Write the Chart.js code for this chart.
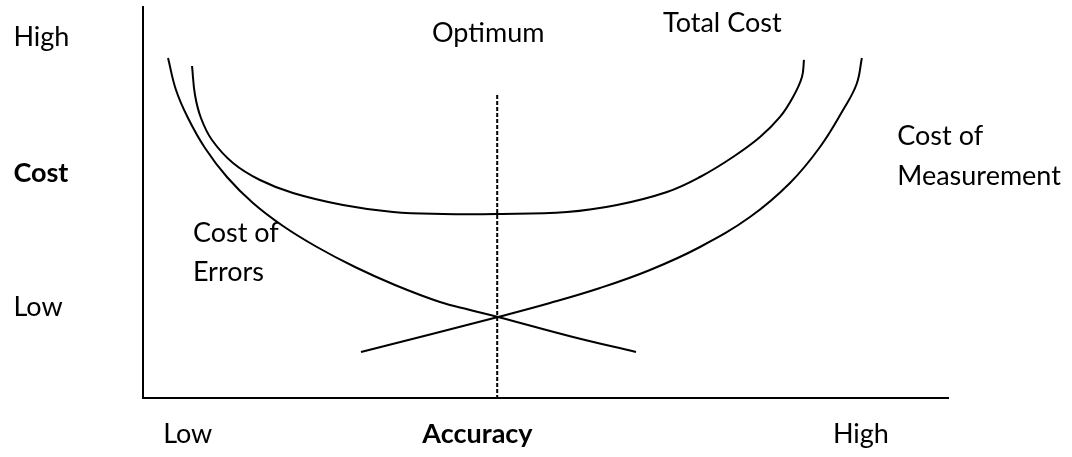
<!DOCTYPE html>
<html>
<head>
<meta charset="utf-8">
<script src="https://cdn.jsdelivr.net/npm/chart.js@4/dist/chart.umd.min.js"></script>
<style>
  html, body { margin: 0; padding: 0; background: #ffffff; }
  #wrap { width: 1072px; height: 457px; }
</style>
</head>
<body>
<div id="wrap"><canvas id="c" width="1072" height="457"></canvas></div>
<script>
// ---- Data (accuracy 0..10 on x, cost 0..10 on y) ----
const errorsX = [0.311, 0.410, 0.559, 0.770, 1.043, 1.366, 1.739, 2.161, 2.634, 3.130, 3.689, 4.062, 4.410, 5.342, 6.124];
const errorsY = [8.696, 7.877, 7.161, 6.394, 5.652, 4.987, 4.399, 3.862, 3.350, 2.890, 2.455, 2.251, 2.072, 1.560, 1.176];

const measureX = [2.708, 3.565, 4.410, 5.056, 5.677, 6.298, 6.919, 7.540, 8.037, 8.410, 8.696, 8.865, 8.930];
const measureY = [1.176, 1.624, 2.072, 2.430, 2.813, 3.274, 3.862, 4.629, 5.499, 6.419, 7.366, 8.030, 8.696];

const totalX = [0.609, 0.646, 0.720, 0.857, 1.118, 1.453, 1.863, 2.484, 3.106, 3.727, 4.398, 5.267, 5.888, 6.509, 6.919, 7.329, 7.665, 7.913, 8.075, 8.186, 8.211];
const totalY = [8.491, 7.749, 7.161, 6.598, 6.010, 5.575, 5.243, 4.936, 4.757, 4.706, 4.706, 4.757, 4.936, 5.269, 5.652, 6.164, 6.675, 7.187, 7.698, 8.210, 8.645];

const optimumX = [4.40, 4.40];
const optimumY = [7.75, 0.00];

const minMarkX = [4.31, 4.52];
const minMarkY = [4.706, 4.706];

// ---- Text labels (anchor = left / baseline, in data units) ----
const labelText = ["High", "Cost", "Low", "Optimum", "Total Cost", "Cost of", "Measurement", "Cost of", "Errors", "Low", "Accuracy", "High"];
const labelX    = [-1.61, -1.61, -1.61, 3.59, 6.46, 9.37, 9.37, 0.62, 0.62, 0.25, 3.47, 8.57];
const labelY    = [9.00, 5.52, 2.10, 9.10, 9.36, 6.47, 5.45, 3.99, 2.99, -1.15, -1.15, -1.15];
const labelBold = [false, true, false, false, false, false, false, false, false, false, true, false];

function pts(xs, ys) { return xs.map((x, i) => ({ x: x, y: ys[i] })); }

const FONT = '"Lato", "Liberation Sans", sans-serif';
const FONT_SIZE = 27;

const textPlugin = {
  id: 'textLabels',
  afterDraw(chart) {
    const ctx = chart.ctx;
    const sx = chart.scales.x, sy = chart.scales.y;
    ctx.save();
    ctx.fillStyle = '#000000';
    ctx.textAlign = 'left';
    ctx.textBaseline = 'alphabetic';
    labelText.forEach((t, i) => {
      ctx.font = (labelBold[i] ? 'bold ' : '') + FONT_SIZE + 'px ' + FONT;
      ctx.fillText(t, sx.getPixelForValue(labelX[i]), sy.getPixelForValue(labelY[i]));
    });
    ctx.restore();
  }
};

const curve = {
  showLine: true, borderColor: '#000000', borderWidth: 2, pointRadius: 0,
  tension: 0.4, fill: false, clip: false
};

new Chart(document.getElementById('c'), {
  type: 'scatter',
  data: {
    datasets: [
      Object.assign({ label: 'Cost of Errors', data: pts(errorsX, errorsY) }, curve),
      Object.assign({ label: 'Cost of Measurement', data: pts(measureX, measureY) }, curve),
      Object.assign({ label: 'Total Cost', data: pts(totalX, totalY) }, curve),
      { label: 'Optimum', data: pts(optimumX, optimumY), showLine: true, borderColor: '#000000',
        borderWidth: 2, borderDash: [4, 2], pointRadius: 0, tension: 0, clip: false },
      { label: 'Minimum', data: pts(minMarkX, minMarkY), showLine: true, borderColor: '#4a7ebb',
        borderWidth: 2, pointRadius: 0, tension: 0, clip: false }
    ]
  },
  options: {
    responsive: false,
    animation: false,
    devicePixelRatio: 1,
    layout: { padding: { left: 143, right: 124, top: 7, bottom: 59 } },
    plugins: { legend: { display: false }, tooltip: { enabled: false } },
    scales: {
      x: {
        type: 'linear', min: 0, max: 10,
        grid: { display: false, drawTicks: false },
        ticks: { display: false },
        border: { display: true, color: '#000000', width: 2 }
      },
      y: {
        type: 'linear', min: 0, max: 10,
        grid: { display: false, drawTicks: false },
        ticks: { display: false },
        border: { display: true, color: '#000000', width: 2 }
      }
    }
  },
  plugins: [textPlugin]
});
</script>
</body>
</html>
